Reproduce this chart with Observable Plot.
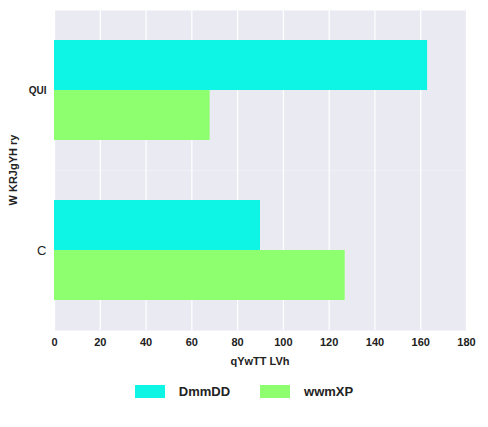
<!DOCTYPE html>
<html><head><meta charset="utf-8">
<script src="https://cdn.jsdelivr.net/npm/d3@7"></script>
<script src="https://cdn.jsdelivr.net/npm/@observablehq/plot@0.6"></script>
<style>
body{margin:0;background:#fff;font-family:"Liberation Sans",Arial,sans-serif}
#legend{display:flex;justify-content:center;gap:30px;margin-top:14px;font-weight:bold;font-size:13px;color:#222}
#legend span{display:flex;align-items:center;gap:14px}
#legend i{display:inline-block;width:30px;height:13px}
</style></head><body>
<div id="chart"></div>
<div id="legend"></div>
<script>
// categories and series
const categories = ['QUI', 'C']
const seriesNames = ['DmmDD', 'wwmXP']
const dmmdd = [163, 90]
const wwmxp = [68, 127]
const xTicks = [0, 20, 40, 60, 80, 100, 120, 140, 160, 180]
const colors = ['#0ef5e6', '#8eff6e']

let data = []
categories.forEach((c, i) => {
    data.push({cat: c, series: seriesNames[0], value: dmmdd[i]})
    data.push({cat: c, series: seriesNames[1], value: wwmxp[i]})
})

let chart = Plot.plot({
    width: 488,
    height: 370,
    marginLeft: 54,
    marginRight: 22,
    marginTop: 10,
    marginBottom: 40,
    style: {fontFamily: '"Liberation Sans", Arial, sans-serif', fontSize: '11px', color: '#222'},
    x: {domain: [0, 180], label: null},
    fy: {domain: categories, padding: 0, label: null, axis: null},
    y: {domain: seriesNames, paddingInner: 0, paddingOuter: 0.6, axis: null},
    color: {domain: seriesNames, range: colors},
    marks: [
        Plot.frame({fill: '#eaeaf2', stroke: null}),
        Plot.gridX(xTicks, {stroke: 'white', strokeOpacity: 1, strokeWidth: 1.2}),
        Plot.barX(data, {x: 'value', y: 'series', fy: 'cat', fill: 'series'}),
        Plot.axisX(xTicks, {tickSize: 0, tickPadding: 8, fontWeight: 'bold', fontSize: 11, label: null}),
        Plot.axisFy({anchor: 'left', tickSize: 0, tickPadding: 8, label: null})
    ]
})

const svg = d3.select(chart)
svg.selectAll('[aria-label="fy-axis tick label"] text').each(function () {
    const t = d3.select(this)
    if (t.text() === 'QUI') t.style('font-weight', 'bold').style('font-size', '10px')
    else t.style('font-size', '13px')
})
svg.append('text')
    .attr('transform', 'translate(17,170) rotate(-90)')
    .attr('text-anchor', 'middle')
    .style('font-weight', 'bold').style('font-size', '11px')
    .text('W KRJgYH ry')
svg.append('text')
    .attr('x', 260).attr('y', 365)
    .attr('text-anchor', 'middle')
    .style('font-weight', 'bold').style('font-size', '11px')
    .text('qYwTT LVh')

d3.select('#chart').append(() => chart)

const legend = d3.select('#legend')
seriesNames.forEach((s, i) => {
    const item = legend.append('span')
    item.append('i').style('background', colors[i])
    item.append('b').text(s)
})
</script>
</body></html>
